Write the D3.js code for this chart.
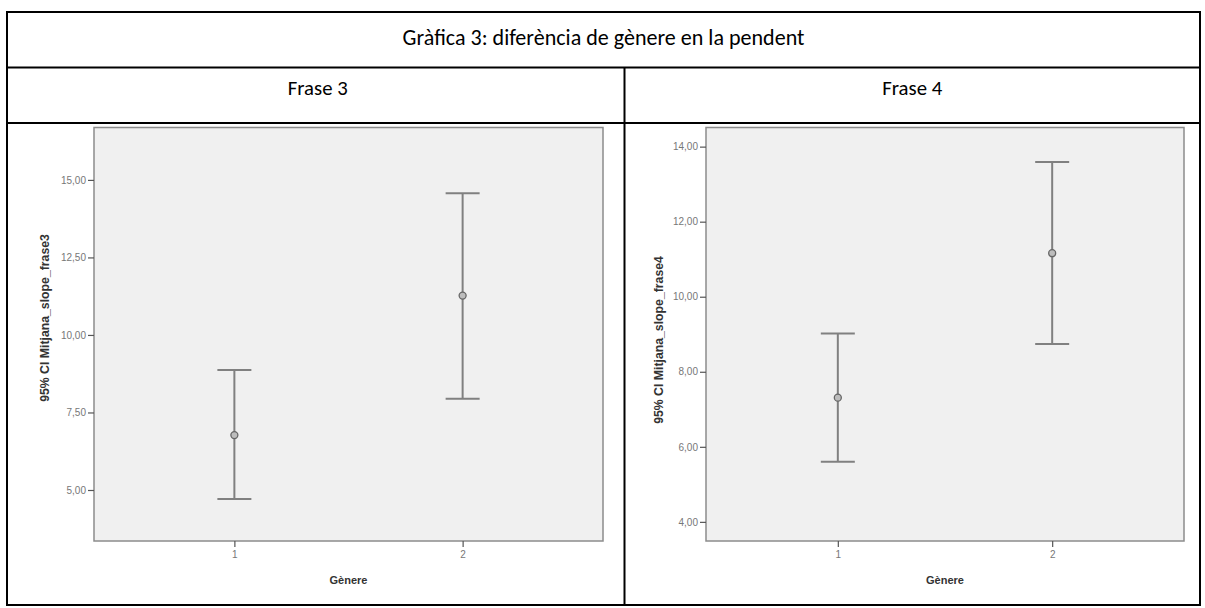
<!DOCTYPE html>
<html><head><meta charset="utf-8">
<script src="https://cdn.jsdelivr.net/npm/d3@7/dist/d3.min.js"></script>
<style>
html,body{margin:0;padding:0;background:#fff;}
svg{display:block;}
</style></head>
<body>
<svg id="c" width="1205" height="608"></svg>
<script>
// ---- data ----
const title = "Gràfica 3: diferència de gènere en la pendent";
const panelTitles = ["Frase 3", "Frase 4"];
const groups = ["1", "2"];
const frase3Mean  = [6.77, 11.27];
const frase3Lower = [4.71, 7.94];
const frase3Upper = [8.87, 14.57];
const frase4Mean  = [7.31, 11.16];
const frase4Lower = [5.60, 8.74];
const frase4Upper = [9.02, 13.59];
const frase3Ticks = [5, 7.5, 10, 12.5, 15];
const frase4Ticks = [4, 6, 8, 10, 12, 14];
const yLabels = ["95% CI Mitjana_slope_frase3", "95% CI Mitjana_slope_frase4"];
const xLabel = "Gènere";

const svg = d3.select("#c");
const fontTitle = "Carlito, Calibri, Lato, 'Open Sans', sans-serif";
const fontChart = "Arial, 'Liberation Sans', sans-serif";

// ---- table ----
const T = {l:7, r:1200, t:12, b:605, row1:67.5, row2:123, mid:624.5};
const tg = svg.append("g").attr("stroke","#000").attr("stroke-width",2).attr("fill","none");
tg.append("rect").attr("x",T.l).attr("y",T.t).attr("width",T.r-T.l).attr("height",T.b-T.t);
tg.append("line").attr("x1",T.l).attr("x2",T.r).attr("y1",T.row1).attr("y2",T.row1);
tg.append("line").attr("x1",T.l).attr("x2",T.r).attr("y1",T.row2).attr("y2",T.row2);
tg.append("line").attr("x1",T.mid).attr("x2",T.mid).attr("y1",T.row1).attr("y2",T.b);

function fitText(sel, target){
  const w = sel.node().getComputedTextLength();
  const fs = parseFloat(sel.attr("font-size"));
  sel.attr("font-size", fs*target/w);
}
const tt = svg.append("text").attr("x",(T.l+T.r)/2).attr("y",45)
  .attr("text-anchor","middle").attr("font-family",fontTitle).attr("font-size",18).attr("fill","#000").text(title);
fitText(tt, 402);
const pcx = [(T.l+T.mid)/2+2, (T.mid+T.r)/2];
panelTitles.forEach((p,i)=>{
  const s = svg.append("text").attr("x",pcx[i]).attr("y",95)
    .attr("text-anchor","middle").attr("font-family",fontTitle).attr("font-size",18).attr("fill","#000").text(p);
  fitText(s, 60);
});

// ---- charts ----
const fmt = v => d3.format(".2f")(v).replace(".", ",");
const panels = [
  {x0:94, x1:603, y0:127.5, y1:541, domain:[3.355,16.69], ticks:frase3Ticks, mean:frase3Mean, lo:frase3Lower, hi:frase3Upper, ylab:yLabels[0], labX:45, labY:318},
  {x0:706, x1:1184, y0:127.5, y1:541, domain:[3.49,14.51], ticks:frase4Ticks, mean:frase4Mean, lo:frase4Lower, hi:frase4Upper, ylab:yLabels[1], labX:659, labY:340}
];

panels.forEach(P=>{
  const g = svg.append("g");
  const x = d3.scalePoint().domain(groups).range([P.x0,P.x1]).padding(0.615);
  const y = d3.scaleLinear().domain(P.domain).range([P.y1,P.y0]);
  g.append("rect").attr("x",P.x0).attr("y",P.y0).attr("width",P.x1-P.x0).attr("height",P.y1-P.y0)
    .attr("fill","#f0f0f0").attr("stroke","#8c8c8c").attr("stroke-width",1.5);

  const ya = d3.axisLeft(y).tickValues(P.ticks).tickFormat(fmt).tickSize(6).tickPadding(2);
  const yg = g.append("g").attr("transform",`translate(${P.x0},0)`).call(ya);
  yg.select(".domain").remove();
  yg.selectAll(".tick line").attr("stroke","#555").attr("stroke-width",1.2);
  yg.selectAll(".tick text").attr("fill","#777").attr("font-size",10).attr("font-family",fontChart);

  const xa = d3.axisBottom(x).tickSize(6).tickPadding(4);
  const xg = g.append("g").attr("transform",`translate(0,${P.y1})`).call(xa);
  xg.select(".domain").remove();
  xg.selectAll(".tick line").attr("stroke","#555").attr("stroke-width",1.2);
  xg.selectAll(".tick text").attr("fill","#777").attr("font-size",10).attr("font-family",fontChart);

  g.append("text").attr("x",(P.x0+P.x1)/2).attr("y",584).attr("text-anchor","middle")
    .attr("font-family",fontChart).attr("font-weight","bold").attr("font-size",11).attr("fill","#333").text(xLabel);
  const yl = g.append("text").attr("transform",`translate(${P.labX},${P.labY}) rotate(-90)`)
    .attr("text-anchor","middle").attr("dy","0.35em")
    .attr("font-family",fontChart).attr("font-weight","bold").attr("font-size",10.5).attr("fill","#333").text(P.ylab);
  fitText(yl, 168);

  const eb = g.append("g").attr("stroke","#808080").attr("stroke-width",2).attr("fill","none");
  groups.forEach((c,i)=>{
    const cx = x(c);
    eb.append("line").attr("x1",cx).attr("x2",cx).attr("y1",y(P.hi[i])).attr("y2",y(P.lo[i]));
    eb.append("line").attr("x1",cx-17).attr("x2",cx+17).attr("y1",y(P.hi[i])).attr("y2",y(P.hi[i]));
    eb.append("line").attr("x1",cx-17).attr("x2",cx+17).attr("y1",y(P.lo[i])).attr("y2",y(P.lo[i]));
    g.append("circle").attr("cx",cx).attr("cy",y(P.mean[i])).attr("r",3.5)
      .attr("fill","#bdbdbd").attr("stroke","#666").attr("stroke-width",1.3);
  });
});
</script>
</body></html>
